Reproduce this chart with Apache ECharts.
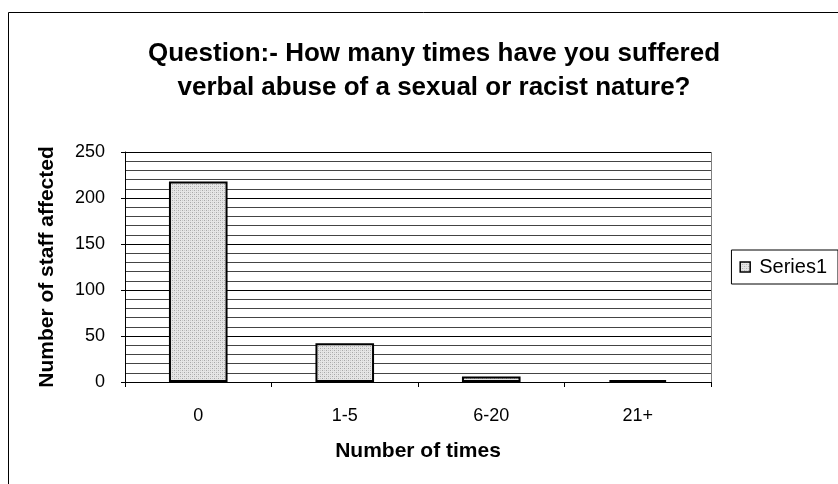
<!DOCTYPE html>
<html>
<head>
<meta charset="utf-8">
<script src="https://cdn.jsdelivr.net/npm/echarts@6/dist/echarts.min.js"></script>
<style>
  html, body { margin: 0; padding: 0; background: #fff; }
  #chart { width: 838px; height: 484px; }
</style>
</head>
<body>
<div id="chart"></div>
<script>
// Survey responses: how often staff suffered verbal abuse
const categories = ['0', '1-5', '6-20', '21+'];
const series1 = [218, 42, 6, 2];
const yTicks = [0, 50, 100, 150, 200, 250];

// Dotted grey fill used for the bars and the legend swatch
function dotPattern() {
  const c = document.createElement('canvas');
  c.width = 4; c.height = 4;
  const g = c.getContext('2d');
  g.fillStyle = '#e6e6e6';
  g.fillRect(0, 0, 4, 4);
  g.fillStyle = '#a8a8a8';
  g.fillRect(0, 0, 1, 1);
  g.fillRect(2, 2, 1, 1);
  g.fillStyle = '#cacaca';
  g.fillRect(2, 0, 1, 1);
  g.fillRect(0, 2, 1, 1);
  return c;
}
const fill = { image: dotPattern(), repeat: 'repeat' };

const chart = echarts.init(document.getElementById('chart'), null, { renderer: 'canvas' });
const font = 'Liberation Sans, Arial, sans-serif';

chart.setOption({
  animation: false,
  backgroundColor: '#fff',
  textStyle: { fontFamily: font, color: '#000' },
  title: {
    text: 'Question:- How many times have you suffered\nverbal abuse of a sexual or racist nature?',
    left: 429,
    textAlign: 'center',
    top: 32,
    textStyle: { fontFamily: font, fontSize: 26, fontWeight: 'bold', color: '#000', lineHeight: 34 }
  },
  legend: {
    data: ['Series1'],
    right: 0,
    top: 250,
    orient: 'vertical',
    padding: [7, 11, 7, 8],
    borderColor: '#000',
    borderWidth: 1,
    itemWidth: 10,
    itemHeight: 10,
    itemGap: 0,
    icon: 'rect',
    itemStyle: { borderColor: '#000', borderWidth: 1.5 },
    textStyle: { fontFamily: font, fontSize: 20, color: '#000', padding: [0, 0, 0, 4] }
  },
  grid: { left: 125, right: 127, top: 152, bottom: 102, containLabel: false },
  xAxis: {
    type: 'category',
    data: categories,
    name: 'Number of times',
    nameLocation: 'middle',
    nameGap: 59,
    nameTextStyle: { fontFamily: font, fontSize: 21, fontWeight: 'bold', color: '#000' },
    axisLine: { lineStyle: { color: '#000', width: 1 } },
    axisTick: { show: true, length: 5, alignWithLabel: false, lineStyle: { color: '#000' } },
    axisLabel: { fontFamily: font, fontSize: 18, color: '#000', margin: 25 },
    splitLine: { show: false }
  },
  yAxis: {
    type: 'value',
    min: yTicks[0],
    max: yTicks[yTicks.length - 1],
    interval: 50,
    name: 'Number of staff affected',
    nameLocation: 'middle',
    nameGap: 67,
    nameTextStyle: { fontFamily: font, fontSize: 21, fontWeight: 'bold', color: '#000' },
    axisLine: { show: true, lineStyle: { color: '#000', width: 1 } },
    axisTick: { show: true, length: 4, lineStyle: { color: '#000' } },
    axisLabel: { fontFamily: font, fontSize: 18, color: '#000', margin: 20 },
    splitLine: { show: true, lineStyle: { color: '#000', width: 1 } },
    minorTick: { show: false, splitNumber: 5 },
    minorSplitLine: { show: true, lineStyle: { color: '#444', width: 1 } }
  },
  series: [{
    name: 'Series1',
    type: 'bar',
    data: series1,
    barWidth: '40%',
    itemStyle: { color: fill, borderColor: '#000', borderWidth: 2 }
  }],
  graphic: [
    // outer chart frame (top and left edges)
    { type: 'line', shape: { x1: 8.5, y1: 12.5, x2: 838, y2: 12.5 }, style: { stroke: '#000', lineWidth: 1 } },
    { type: 'line', shape: { x1: 8.5, y1: 12.5, x2: 8.5, y2: 484 }, style: { stroke: '#000', lineWidth: 1 } },
    // right edge of the plot area
    { type: 'line', shape: { x1: 711.5, y1: 152, x2: 711.5, y2: 382 }, style: { stroke: '#808080', lineWidth: 1 } }
  ]
});
</script>
</body>
</html>
